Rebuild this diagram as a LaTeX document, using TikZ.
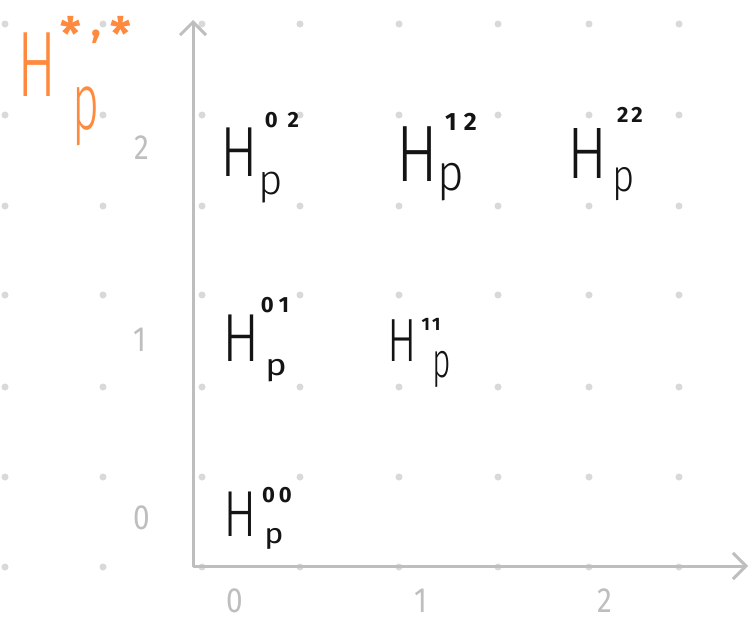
\documentclass[tikz,border=0pt]{standalone}
\usepackage{fontspec}
\usetikzlibrary{arrows.meta}
\newfontfamily\hand{Fira Sans Light}
\newfontfamily\handb{Fira Sans}
\definecolor{inkc}{HTML}{141414}
\definecolor{orangec}{HTML}{FF8A3D}
\definecolor{axisc}{HTML}{BEBEBE}
\definecolor{dotc}{HTML}{D9D9D9}
\newcommand\fs[1]{\fontsize{#1}{#1}\selectfont}
\newcommand\nar[2]{\scalebox{#1}[1]{#2}}
\begin{document}
\begin{tikzpicture}[x=1pt,y=-1pt,
  hlet/.style={inner sep=0pt, text=inkc, font=\hand},
  plet/.style={inner sep=0pt, text=inkc, font=\hand},
  supl/.style={inner sep=0pt, text=inkc, font=\handb\bfseries},
  axl/.style={inner sep=0pt, text=axisc, font=\handb\fs{35}},
  orng/.style={inner sep=0pt, text=orangec},
  axisline/.style={draw=axisc, line width=3pt, line cap=round, line join=round},
  barb/.tip={Straight Barb[length=13pt,width=26pt]}
]
\useasboundingbox (0,0) rectangle (753,621);
\fill[white] (0,0) rectangle (753,621);
% dot grid
\foreach \x in {5,103,202,300,399,498,589,679}
  \foreach \y in {24,115,206,295,387,477,567}
    \fill[dotc] (\x,\y) circle[radius=3.5pt];
% axes
\coordinate (ytop) at (193,20);
\coordinate (org) at (193,566);
\coordinate (xend) at (748,566);
\draw[axisline, barb-barb] (ytop) -- (org) -- (xend);
% axis labels
\node[axl] (y2) at (142,148) {\nar{0.85}{2}};
\node[axl] (y1) at (140,340) {\nar{0.85}{1}};
\node[axl] (y0) at (142,518) {\nar{0.85}{0}};
\node[axl] (x0) at (235,601) {\nar{0.85}{0}};
\node[axl] (x1) at (421,601) {\nar{0.85}{1}};
\node[axl] (x2) at (605,601) {\nar{0.85}{2}};
% orange title
\node[orng, font=\hand] (oH) at (37,65) {\fs{93}\nar{0.63}{H}};
\node[orng, font=\hand] (oP) at (85.5,116) {\fs{80}\nar{0.58}{p}};
\node[orng, font=\handb\bfseries, anchor=base] (oS) at (96,50) {\fs{46}*\hspace{10pt}\raisebox{14pt}{\fs{40},}\hspace{10pt}*};
% H02
\node[hlet] (h02) at (239,152) {\fs{71}\nar{0.79}{H}};
\node[plet] (p02) at (271,188) {\fs{42}\nar{1.0}{p}};
\node[supl] (s02) at (282,120) {\fs{22}0\hspace{10pt}2};
% H12
\node[hlet] (h12) at (417,154) {\fs{80}\nar{0.78}{H}};
\node[plet] (p12) at (451,182) {\fs{51}\nar{0.9}{p}};
\node[supl] (s12) at (461,122) {\fs{25}1\hspace{7pt}2};
% H22
\node[hlet] (h22) at (588,153) {\fs{73}\nar{0.82}{H}};
\node[plet] (p22) at (624,184) {\fs{45}\nar{0.85}{p}};
\node[supl] (s22) at (630,115) {\fs{22}2\hspace{3pt}2};
% H01
\node[hlet] (h01) at (241,338) {\fs{68}\nar{0.82}{H}};
\node[plet, font=\handb] (p01) at (276,371) {\fs{30}\nar{1.2}{p}};
\node[supl] (s01) at (275,305) {\fs{22}0\hspace{5pt}1};
% H11
\node[hlet] (h11) at (402,341) {\fs{61}\nar{0.72}{H}};
\node[plet] (p11) at (442,369) {\fs{49}\nar{0.65}{p}};
\node[supl] (s11) at (431,324) {\fs{18}1\hspace{2pt}1};
% H00
\node[hlet] (h00) at (240,514) {\fs{65}\nar{0.77}{H}};
\node[plet, font=\handb] (p00) at (274,539) {\fs{28}\nar{1.15}{p}};
\node[supl] (s00) at (277,495) {\fs{22}0\hspace{4pt}0};
\end{tikzpicture}
\end{document}
